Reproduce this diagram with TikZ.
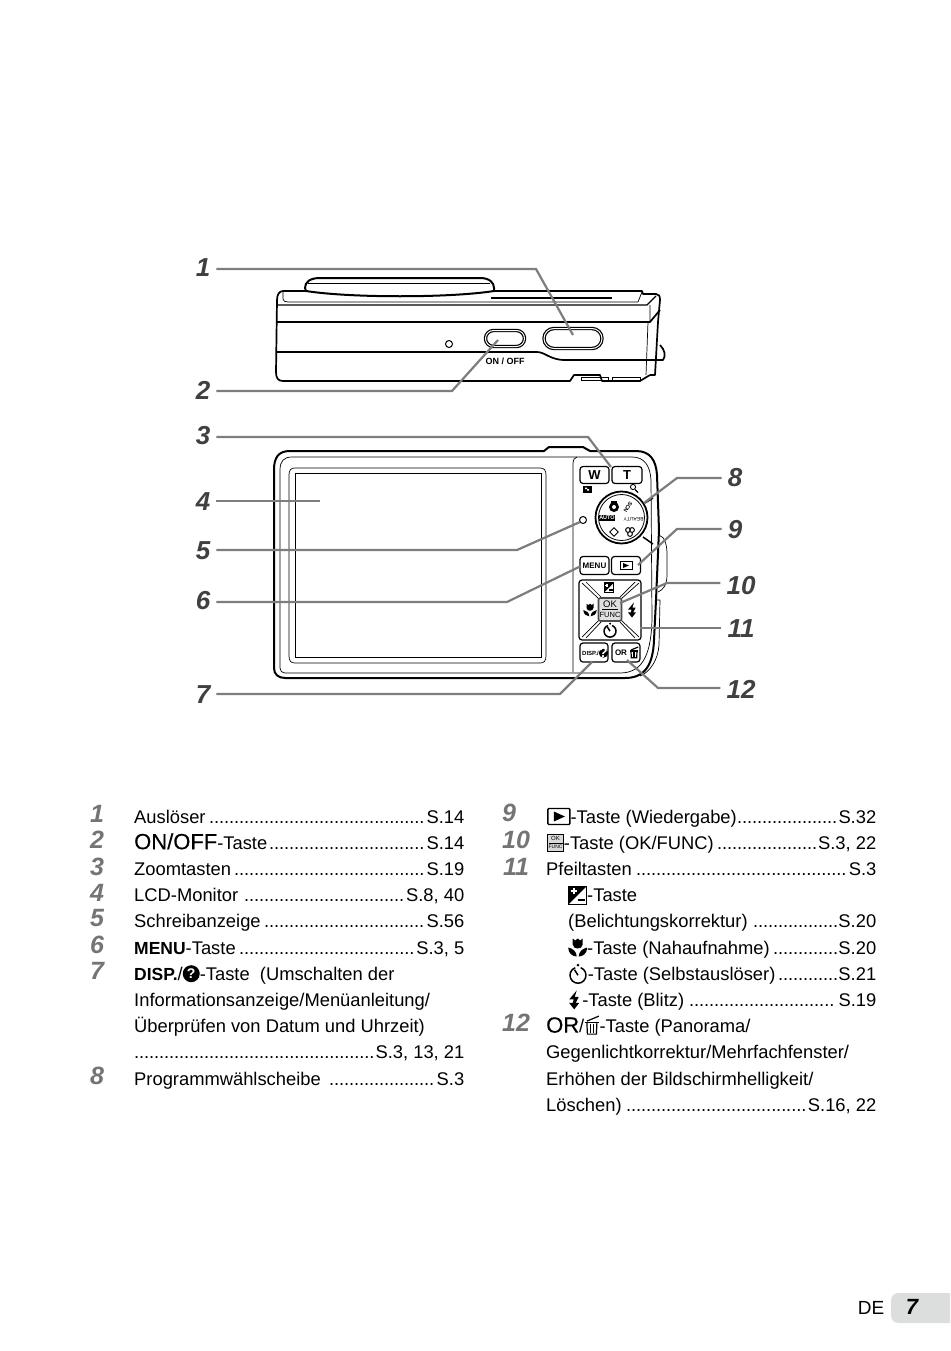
\documentclass[tikz,border=0pt]{standalone}
\usepackage{fontspec}
\setmainfont{Liberation Sans}
\usetikzlibrary{positioning}

\definecolor{leadergray}{HTML}{7d7d7d}
\definecolor{numgray}{HTML}{747474}
\definecolor{tabgray}{HTML}{dcdddd}

\newcommand{\punkte}{\leaders\hbox to 5pt{\hss.\hss}\hfill}
\newcommand{\reihe}[3][330pt]{\hbox to #1{#2\punkte #3}}
\newcommand{\groesser}[1]{{\fontsize{22}{24}\selectfont\addfontfeature{FakeBold=.4}#1}}
\newcommand{\fett}[1]{{\fontsize{17.5}{20}\selectfont\bfseries #1}}
\newcommand{\IcoPlay}{\tikz[ico,baseline=-6.5pt]\pic{playico};}
\newcommand{\IcoOk}{\tikz[ico,baseline=-6.5pt]\pic{okico};}
\newcommand{\IcoEv}{\tikz[ico,baseline=-6.5pt]\pic{evico};}
\newcommand{\IcoMacro}{\tikz[ico,baseline=-6.5pt]\pic{macroico};}
\newcommand{\IcoTimer}{\tikz[ico,baseline=-6.5pt]\pic{timerico};}
\newcommand{\IcoFlash}{\tikz[ico,baseline=-6.5pt]\pic{flashico};}
\newcommand{\IcoHelp}{\tikz[ico,baseline=-6.5pt]\pic{helpico};}
\newcommand{\IcoTrash}{\tikz[ico,baseline=-6.5pt]\pic{trashico};}

\tikzset{
  ico/.style={x=1pt,y=-1pt},
  leader/.style={draw=leadergray,line width=2.2pt},
  callout/.style={font=\fontsize{26}{28}\selectfont\bfseries\itshape,text=black!75,inner sep=6pt},
  listnum/.style={font=\fontsize{25}{27}\selectfont\bfseries\itshape,text=numgray,inner sep=0pt},
  row/.style={anchor=base west,inner sep=0pt,font=\fontsize{18.35}{20}\selectfont},
  bodyline/.style={line width=1.7pt,line join=round},
  thinline/.style={line width=.7pt,line join=round},
  keybox/.style={draw,line width=1.2pt,rounded corners=3pt,inner sep=0pt,minimum width=29pt,minimum height=18pt,font=\fontsize{11}{12}\selectfont\bfseries},
  pics/playico/.style={code={
    \draw[line width=1.4pt,rounded corners=1pt] (-11,-8) rectangle (11,8);
    \fill (-5,-5) -- (6,0) -- (-5,5) -- cycle;}},
  pics/okico/.style={code={
    \draw[line width=.7pt,fill=black!15] (-8,-8.5) rectangle (8,8.5);
    \node[anchor=center,inner sep=0pt,font=\fontsize{6}{6}\selectfont] at (0,-4) {OK};
    \node[anchor=center,inner sep=0pt,font=\fontsize{5}{5}\selectfont] at (0,4) {FUNC};
    \draw[line width=.4pt] (-7,0) -- (7,0);}},
  pics/evico/.style={code={
    \draw[line width=1pt,fill=white] (-9,-9) rectangle (9,9);
    \fill (-9,-9) -- (9,-9) -- (-9,9) -- cycle;
    \draw[white,line width=1.6pt] (-7,-4) -- (-1,-4) (-4,-7) -- (-4,-1);
    \draw[line width=1.8pt] (0,5) -- (7,5);}},
  pics/macroico/.style={code={
    \fill (-5,-9) -- (-2.5,-7) -- (0,-9) -- (2.5,-7) -- (5,-9) -- (5,-3) .. controls (5,0) and (2,1) .. (0,1) .. controls (-2,1) and (-5,0) .. (-5,-3) -- cycle;
    \fill (-1,9) .. controls (-5,9) and (-9.5,6) .. (-9.5,0) .. controls (-5,1) and (-1,4) .. (-1,9) -- cycle;
    \fill (1,9) .. controls (5,9) and (9.5,6) .. (9.5,0) .. controls (5,1) and (1,4) .. (1,9) -- cycle;}},
  pics/timerico/.style={code={
    \draw[line width=1.5pt] (0,1.5) ++(-70:8) arc (-70:250:8);
    \fill (0,-8.5) circle (1.5);
    \draw[line width=1.5pt] (0,1.5) -- (-3.5,-4);}},
  pics/flashico/.style={code={
    \fill (2.5,-9.5) -- (-5,-0.5) -- (-0.5,-0.5) -- (-1.5,3) -- (-5,3) -- (0,9.5) -- (5,3) -- (1.5,3) -- (4.5,-3) -- (0.5,-3) -- cycle;}},
  pics/helpico/.style={code={
    \fill (0,0) circle (8.5);
    \node[anchor=center,inner sep=0pt,text=white,font=\fontsize{14}{14}\selectfont\bfseries] at (0,0) {?};}},
  pics/trashico/.style={code={
    \draw[line width=1.2pt] (-7,-3.5) -- (7,-3.5);
    \draw[line width=1.2pt] (-5,-5) -- (7,-10);
    \draw[line width=1.2pt] (-5,-3.5) -- (-4.5,8) -- (4.5,8) -- (5,-3.5);
    \draw[line width=1pt] (-1.6,-2) -- (-1.6,7) (1.6,-2) -- (1.6,7);}},
}

\begin{document}
\begin{tikzpicture}[x=1pt,y=-1pt]
  \useasboundingbox (0,0) rectangle (950,1351);

  % camera seen from above
  \draw[line width=2pt,line join=round,fill=white] (305,288) .. controls (305,282) and (310,278) .. (320,278) -- (480,278) .. controls (490,278) and (494,283) .. (494,288) -- (494,291) .. controls (450,298) and (350,298) .. (306,291) -- cycle;
  \draw[thinline] (308,283) -- (490,283);
  \draw[bodyline] (306,291) -- (283,291) .. controls (279,291) and (277,295) .. (277,300) -- (276,372) .. controls (276,378) and (278,381) .. (283,381) -- (570,381) -- (574,375) -- (600,375) -- (602,381) -- (640,381) -- (650,375);
  \draw[bodyline] (494,291) -- (642,291) -- (643,294) -- (656,294) .. controls (659,294) and (660,296) .. (660,300) -- (658,322) -- (655,375) -- (650,375);
  \draw[thinline] (283,291) -- (283,299) .. controls (283,301) and (285,302) .. (288,302) -- (638,302) -- (642,292);
  \draw[line width=1.2pt] (278,305) -- (647,305) -- (656,296);
  \draw[line width=1.6pt] (491,298) -- (612,298);
  \draw[line width=1.7pt] (276,322) -- (650,322) -- (660,310);
  \draw[line width=1.7pt] (276,352) -- (537,352) .. controls (545,352) and (550,360) .. (565,360) -- (655,360);
  \draw[thinline] (650,305) -- (650,322) (648,322) -- (646,375);
  \draw[bodyline] (660,345) .. controls (665,350) and (666,356) .. (663,360) -- (655,360);
  \draw[line width=.8pt] (581,377) rectangle (608,380);
  \draw[line width=.8pt] (612,377) rectangle (640,380);
  \node[draw,line width=1pt,circle,inner sep=0pt,minimum size=7pt] (holetop) at (449,344) {};
  \node[draw,line width=1.2pt,double,double distance=1pt,rounded corners=8pt,inner sep=0pt,minimum width=39pt,minimum height=16pt] (onoff) at (505,338.5) {};
  \node[draw,line width=1.2pt,double,double distance=1pt,rounded corners=10pt,inner sep=0pt,minimum width=58pt,minimum height=20pt] (shutter) at (573,338.5) {};
  \node[inner sep=0pt,font=\fontsize{9}{10}\selectfont\bfseries] (onofftext) at (505,361) {ON / OFF};

  % camera seen from behind
  \draw[line width=2pt,line join=round] (274,470) .. controls (274,458) and (278,451) .. (290,451) -- (544,451) -- (549,447) -- (583,447) -- (590,451) -- (636,451) .. controls (650,451) and (656,460) .. (657,475) -- (659,530) -- (656,600) -- (654,640) .. controls (653,665) and (645,678) .. (625,678) -- (285,678) .. controls (278,678) and (274,674) .. (274,668) -- cycle;
  \draw[thinline] (280,470) .. controls (280,461) and (284,457) .. (292,457) -- (632,457) .. controls (644,457) and (650,465) .. (651,480) -- (652,620) .. controls (651,650) and (645,673) .. (620,673) -- (285,673) .. controls (282,673) and (280,671) .. (280,668) -- cycle;
  \draw[thinline] (573,672) -- (573,463) .. controls (573,460) and (574,458) .. (577,457);
  \draw[thinline] (289,475) .. controls (289,470) and (291,468) .. (295,468) -- (540,468) .. controls (544,468) and (546,470) .. (546,475) -- (546,656) .. controls (546,661) and (544,663) .. (540,663) -- (295,663) .. controls (291,663) and (289,661) .. (289,656) -- cycle;
  \draw[line width=1pt] (295,473) rectangle (541,657);
  \draw[thinline] (659,535) .. controls (665,537) and (667,545) .. (667,555) -- (667,575) .. controls (667,585) and (663,590) .. (658,592);
  \draw[thinline] (656,600) -- (660,600) -- (659,645) .. controls (658,660) and (650,672) .. (640,676);

  \node[keybox,minimum width=29pt,minimum height=17pt,font=\fontsize{13}{14}\selectfont\bfseries] (wide) at (594.5,475) {W};
  \node[keybox,minimum width=30pt,minimum height=17pt,font=\fontsize{13}{14}\selectfont\bfseries] (tele) at (627,475) {T};
  \node[draw,line width=1pt,circle,inner sep=0pt,minimum size=7pt] (holeback) at (583,520) {};
  \draw[line width=1pt,fill=black] (583,486) rectangle (591,492);
  \fill[white] (585,487.5) rectangle (587,489) (587,489) rectangle (589,490.5);
  \draw[line width=.9pt] (633,487) circle (2.6);
  \draw[line width=1.4pt] (635,489.5) -- (638,492.5);

  % mode dial
  \node[draw,line width=1.8pt,circle,inner sep=0pt,minimum size=52pt] (dial) at (621.5,517.5) {};
  \draw[line width=.8pt] (dial.center) circle (23);
  \draw[line width=1.5pt] (645,503) -- (653,498);
  \draw[line width=1.5pt] (643,537) -- (653,544);
  \fill (614,507) circle (5);
  \fill[white] (614,507) circle (2);
  \fill (611,501) rectangle (617,503);
  \node[fill=black,text=white,inner sep=.6pt,font=\fontsize{5.5}{6}\selectfont\bfseries] (autobox) at (607,518) {AUTO};
  \node[rotate=180,inner sep=0pt,font=\fontsize{5}{5}\selectfont] (beauty) at (633.5,519) {BEAUTY};
  \node[rotate=-120,inner sep=0pt,font=\fontsize{5.5}{5.5}\selectfont\bfseries] (scn) at (628,507) {SCN};
  \node[draw,line width=.8pt,rotate=45,inner sep=0pt,minimum size=6pt] (scenebox) at (614,532) {};
  \draw[line width=1pt] (628,530) circle (2.4) (632,530) circle (2.4) (630,534) circle (2.4);

  % keys
  \node[keybox] (menu) at (594.5,565.5) {\fontsize{8}{9}\selectfont MENU};
  \node[keybox] (play) at (626,565.5) {};
  \draw[line width=1pt] (620,561.5) rectangle (632,569.5);
  \fill (623,563) -- (629,565.5) -- (623,568) -- cycle;
  \draw[line width=1.2pt,rounded corners=3pt] (579,580) rectangle (641,640);
  \draw[thinline] (582,583) -- (599,599) (639,583) -- (621,599) (582,637) -- (599,620) (639,637) -- (621,620);
  \draw[thinline] (586,582) -- (601,597) (635,582) -- (620,597) (586,638) -- (601,622) (635,638) -- (620,622);
  \node[draw=black!70,line width=1.6pt,fill=black!12,rounded corners=2pt,inner sep=0pt,minimum width=23pt,minimum height=23pt] (okkey) at (610,609.5) {};
  \node[inner sep=0pt,font=\fontsize{9.5}{10}\selectfont] (oktext) at (610,604) {OK};
  \node[inner sep=0pt,font=\fontsize{7.5}{8}\selectfont] (functext) at (610,615) {FUNC};
  \draw[line width=.5pt] (602,609.5) -- (618,609.5);
  \pic[scale=.55] at (609,587.5) {evico};
  \pic[scale=.7] at (590,610) {macroico};
  \pic[scale=.8] at (632,610) {flashico};
  \pic[scale=.75] at (610,630) {timerico};
  \node[keybox,minimum width=28pt,minimum height=19pt] (disp) at (594,652.5) {};
  \node[inner sep=0pt,font=\fontsize{6}{7}\selectfont\bfseries] (disptext) at (590.5,653) {DISP./};
  \pic[scale=.55] at (603.5,653) {helpico};
  \node[keybox,minimum width=28pt,minimum height=19pt] (orkey) at (626,652.5) {};
  \node[inner sep=0pt,font=\fontsize{8}{9}\selectfont\bfseries] (ortext) at (621,653) {OR};
  \pic[scale=.6] at (634,653) {trashico};

  % callouts
  \node[callout] (n1) at (203,268) {1};
  \node[callout] (n2) at (203,390) {2};
  \node[callout] (n3) at (203,436) {3};
  \node[callout] (n4) at (203,502) {4};
  \node[callout] (n5) at (203,551) {5};
  \node[callout] (n6) at (203,601) {6};
  \node[callout] (n7) at (203,695) {7};
  \node[callout] (n8) at (735,478) {8};
  \node[callout] (n9) at (735,530) {9};
  \node[callout] (n10) at (741,586) {10};
  \node[callout] (n11) at (741,629) {11};
  \node[callout] (n12) at (741,689) {12};

  \coordinate (k1) at (536,269);  \coordinate (e1) at (573,335);
  \coordinate (k2) at (452,391);  \coordinate (e2) at (498,340);
  \coordinate (k3) at (588,437);  \coordinate (e3) at (611,467);
  \coordinate (e4) at (320,501);
  \coordinate (k5) at (517,550);  \coordinate (e5) at (580,522);
  \coordinate (k6) at (507,602);  \coordinate (e6) at (581,566);
  \coordinate (k7) at (560,694);  \coordinate (e7) at (592,662);
  \coordinate (k8) at (677,478);  \coordinate (e8) at (644,503);
  \coordinate (k9) at (677,529);  \coordinate (e9) at (638,565);
  \coordinate (k10) at (667,583); \coordinate (e10) at (620,603);
  \coordinate (e11) at (640,628);
  \coordinate (k12) at (658,688); \coordinate (e12) at (627,660);

  \draw[leader] (n1.east |- k1) -- (k1) -- (e1);
  \draw[leader] (n2.east |- k2) -- (k2) -- (e2);
  \draw[leader] (n3.east |- k3) -- (k3) -- (e3);
  \draw[leader] (n4.east |- e4) -- (e4);
  \draw[leader] (n5.east |- k5) -- (k5) -- (e5);
  \draw[leader] (n6.east |- k6) -- (k6) -- (e6);
  \draw[leader] (n7.east |- k7) -- (k7) -- (e7);
  \draw[leader] (n8.west |- k8) -- (k8) -- (e8);
  \draw[leader] (n9.west |- k9) -- (k9) -- (e9);
  \draw[leader] (n10.west |- k10) -- (k10) -- (e10);
  \draw[leader] (n11.west |- e11) -- (e11);
  \draw[leader] (n12.west |- k12) -- (k12) -- (e12);

  % left list
  \node[listnum] (m1) at (97,813.5) {1};
  \node[listnum] (m2) at (97,839.5) {2};
  \node[listnum] (m3) at (97,866.5) {3};
  \node[listnum] (m4) at (97,892.5) {4};
  \node[listnum] (m5) at (97,918.5) {5};
  \node[listnum] (m6) at (97,944.5) {6};
  \node[listnum] (m7) at (97,970.5) {7};
  \node[listnum] (m8) at (97,1075.5) {8};
  \node[row] (r1) at (134,823) {\reihe{Auslöser}{S.14}};
  \node[row] (r2) at (134,849.2) {\reihe{\groesser{ON/OFF}-Taste}{S.14}};
  \node[row] (r3) at (134,875.4) {\reihe{Zoomtasten}{S.19}};
  \node[row] (r4) at (134,901.6) {\reihe{LCD-Monitor }{S.8, 40}};
  \node[row] (r5) at (134,927.8) {\reihe{Schreibanzeige}{S.56}};
  \node[row] (r6) at (134,954) {\reihe{\fett{MENU}-Taste}{S.3, 5}};
  \node[row] (r7) at (134,980.2) {\fett{DISP.}/\IcoHelp-Taste~ (Umschalten der};
  \node[row] (r8) at (134,1006.4) {Informationsanzeige/Menüanleitung/};
  \node[row] (r9) at (134,1032.6) {Überprüfen von Datum und Uhrzeit)};
  \node[row] (r10) at (134,1058.8) {\reihe{}{S.3, 13, 21}};
  \node[row] (r11) at (134,1085) {\reihe{Programmwählscheibe }{S.3}};

  % right list
  \node[listnum] (m9) at (509,812.5) {9};
  \node[listnum] (m10) at (516,839.5) {10};
  \node[listnum] (m11) at (516,866.5) {11};
  \node[listnum] (m12) at (516,1022.5) {12};
  \node[row] (s1) at (547,823) {\reihe[329pt]{\IcoPlay-Taste (Wiedergabe)}{S.32}};
  \node[row] (s2) at (547,849.2) {\reihe[329pt]{\IcoOk-Taste (OK/FUNC)}{S.3, 22}};
  \node[row] (s3) at (546,875.4) {\reihe[330pt]{Pfeiltasten}{S.3}};
  \node[row] (s4) at (568,901.6) {\IcoEv-Taste};
  \node[row] (s5) at (568,927.8) {\reihe[308pt]{(Belichtungskorrektur) }{S.20}};
  \node[row] (s6) at (568,954) {\reihe[308pt]{\IcoMacro-Taste (Nahaufnahme)}{S.20}};
  \node[row] (s7) at (568,980.2) {\reihe[308pt]{\IcoTimer-Taste (Selbstauslöser)}{S.21}};
  \node[row] (s8) at (569,1006.4) {\reihe[307pt]{\IcoFlash\,-Taste (Blitz)}{S.19}};
  \node[row] (s9) at (546,1032.6) {\groesser{OR}/\IcoTrash-Taste (Panorama/};
  \node[row] (s10) at (546,1058.8) {Gegenlichtkorrektur/Mehrfachfenster/};
  \node[row] (s11) at (546,1085) {Erhöhen der Bildschirmhelligkeit/};
  \node[row] (s12) at (546,1111.2) {\reihe[330pt]{Löschen)}{S.16, 22}};

  % page tab
  \fill[tabgray] (950,1293) -- (899,1293) .. controls (894,1293) and (891,1296) .. (891,1301) -- (891,1315) .. controls (891,1320) and (894,1323) .. (899,1323) -- (950,1323) -- cycle;
  \node[inner sep=0pt,font=\fontsize{19}{21}\selectfont] (lang) at (871,1307.5) {DE};
  \node[inner sep=0pt,font=\fontsize{22}{24}\selectfont\bfseries\itshape] (page) at (912,1307) {7};
\end{tikzpicture}
\end{document}
